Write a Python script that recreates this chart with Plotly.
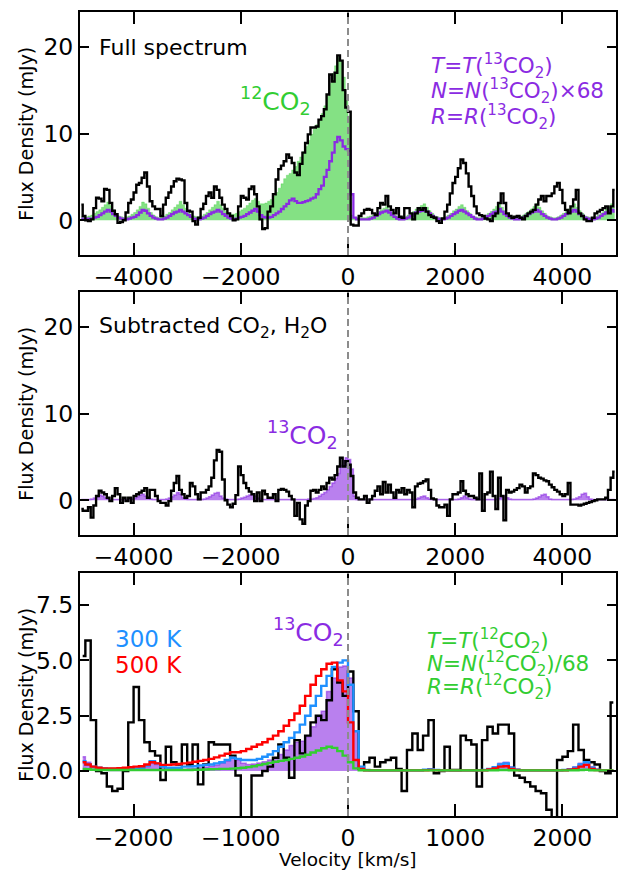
import plotly.graph_objects as go

# ---------------- velocity grids (bin centres, km/s) ----------------
WIDE_START, WIDE_STEP, WIDE_N = -4975, 50, 200
ZOOM_START, ZOOM_STEP, ZOOM_N = -2475, 50, 100
vel_wide = [WIDE_START + WIDE_STEP * i for i in range(WIDE_N)]
vel_zoom = [ZOOM_START + ZOOM_STEP * i for i in range(ZOOM_N)]

# ---------------- panel 1: full spectrum ----------------
full_obs = [
    1.8, 0.5, 0.0, -0.1, 0.1, 1.4, 2.6, 2.5, 2.2, 3.6, 3.5, 2.0, 1.1, 0.7, -0.3, -0.2, 0.0, 0.9, 2.0, 2.4,
    3.2, 4.1, 4.3, 4.9, 5.5, 3.9, 2.2, 1.6, 1.3, 1.3, 0.5, 1.8, 2.6, 3.2, 3.9, 4.5, 4.8, 4.7, 4.6, 2.0,
    1.1, 1.0, -0.1, -0.5, 0.3, 1.3, 1.9, 2.8, 3.2, 2.6, 3.9, 3.5, 2.6, 1.8, 1.3, 0.8, 0.5, 0.0, 0.1, 1.6,
    2.8, 2.6, 2.4, 3.6, 3.9, 3.0, 1.6, 0.1, -1.0, -0.9, 1.0, 1.6, 3.0, 4.7, 5.9, 6.3, 6.8, 7.6, 7.2, 6.6,
    5.5, 5.2, 6.5, 7.8, 8.9, 9.9, 10.7, 10.7, 10.8, 11.6, 12.0, 12.8, 14.5, 16.8, 16.0, 17.0, 19.0, 18.4, 15.0, 13.0,
    12.5, -0.5, -0.6, -0.6, 0.5, 0.8, 1.2, 1.3, 1.2, 0.8, 0.6, 1.4, 2.0, 1.8, 2.8, 1.6, 1.2, 0.8, 1.4, 0.4,
    0.3, 1.4, 1.4, 0.8, 0.1, 0.8, 1.4, 1.2, 1.4, 1.0, 0.6, 0.4, 0.3, -0.1, -0.3, 0.2, 1.0, 1.8, 3.1, 4.3,
    5.0, 6.0, 7.0, 6.6, 5.4, 3.9, 2.8, 1.6, 0.8, 0.6, 0.5, 0.2, 0.1, -0.1, 0.5, 0.8, 2.0, 3.1, 2.0, 0.8,
    0.5, 0.3, 0.4, 0.5, 0.3, 0.1, 0.5, 0.8, 1.0, 1.2, 1.8, 2.4, 2.8, 2.2, 2.8, 2.8, 3.1, 3.9, 4.3, 3.5,
    2.0, 1.2, 0.8, 1.6, 2.4, 3.5, 0.8, 0.5, 0.1, -0.1, -0.1, 0.3, 0.8, 1.0, 1.2, 1.4, 1.6, 0.8, 1.6, 3.5,
]
full_model12 = [
    0.4, 0.4, 0.4, 0.5, 0.6, 0.8, 1.0, 1.2, 1.5, 1.8, 2.1, 1.7, 1.2, 0.8, 0.5, 0.4, 0.3, 0.4, 0.5, 0.7,
    0.9, 1.2, 1.6, 2.1, 1.9, 1.4, 0.9, 0.6, 0.4, 0.3, 0.4, 0.5, 0.7, 0.9, 1.2, 1.5, 1.8, 2.2, 1.8, 1.4,
    1.0, 0.7, 0.5, 0.4, 0.4, 0.5, 0.7, 0.9, 1.2, 1.5, 1.8, 2.2, 1.8, 1.4, 1.0, 0.8, 0.7, 0.7, 0.8, 1.0,
    1.2, 1.4, 1.7, 2.0, 2.3, 2.5, 2.2, 1.9, 1.9, 2.0, 2.2, 2.4, 2.8, 3.2, 3.7, 4.2, 4.8, 5.2, 5.4, 5.8,
    6.2, 6.8, 7.3, 7.9, 8.5, 9.2, 9.9, 10.5, 11.0, 11.6, 12.3, 13.2, 14.3, 15.8, 16.9, 17.8, 18.8, 18.3, 16.5, 13.8,
    12.0, 0.6, 0.3, 0.3, 0.3, 0.3, 0.3, 0.4, 0.5, 0.6, 0.8, 1.0, 1.2, 1.4, 1.6, 1.3, 0.9, 0.6, 0.4, 0.3,
    0.3, 0.4, 0.6, 0.8, 1.0, 1.3, 1.5, 1.7, 1.9, 1.5, 1.1, 0.8, 0.5, 0.4, 0.3, 0.3, 0.4, 0.6, 0.8, 1.1,
    1.3, 1.6, 1.8, 1.5, 1.1, 0.8, 0.5, 0.4, 0.3, 0.3, 0.4, 0.6, 0.8, 1.0, 1.3, 1.6, 1.9, 1.5, 1.1, 0.8,
    0.5, 0.4, 0.3, 0.3, 0.4, 0.6, 0.8, 1.0, 1.3, 1.6, 1.9, 1.5, 1.1, 0.8, 0.5, 0.4, 0.3, 0.3, 0.4, 0.6,
    0.8, 1.0, 1.3, 1.6, 1.9, 1.5, 1.1, 0.8, 0.5, 0.4, 0.3, 0.3, 0.4, 0.6, 0.8, 1.0, 1.3, 1.6, 1.9, 1.5,
]
full_model13 = [
    0.2, 0.2, 0.2, 0.2, 0.2, 0.3, 0.4, 0.6, 0.8, 1.0, 1.2, 1.0, 0.7, 0.5, 0.3, 0.2, 0.1, 0.1, 0.2, 0.3,
    0.4, 0.6, 0.9, 1.2, 1.1, 0.8, 0.5, 0.3, 0.2, 0.1, 0.1, 0.2, 0.3, 0.5, 0.7, 0.9, 1.0, 1.2, 1.0, 0.8,
    0.6, 0.4, 0.2, 0.1, 0.1, 0.2, 0.3, 0.5, 0.7, 0.9, 1.0, 1.2, 1.0, 0.7, 0.5, 0.3, 0.2, 0.1, 0.2, 0.3,
    0.4, 0.5, 0.7, 0.9, 1.1, 1.3, 1.0, 0.6, 0.4, 0.3, 0.3, 0.4, 0.6, 0.8, 1.0, 1.3, 1.6, 1.9, 2.3, 2.5,
    2.2, 2.0, 2.0, 2.1, 2.2, 2.3, 2.5, 2.6, 3.0, 3.6, 4.0, 5.0, 5.8, 6.8, 7.8, 9.0, 9.6, 9.2, 8.5, 8.2,
    8.0, 3.0, 0.3, 0.1, 0.1, 0.1, 0.1, 0.1, 0.2, 0.3, 0.5, 0.7, 0.9, 1.0, 1.1, 0.9, 0.6, 0.4, 0.2, 0.1,
    0.1, 0.2, 0.3, 0.5, 0.7, 0.9, 1.0, 1.1, 1.3, 1.0, 0.8, 0.5, 0.3, 0.2, 0.1, 0.1, 0.2, 0.3, 0.5, 0.7,
    0.9, 1.1, 1.2, 1.0, 0.8, 0.6, 0.4, 0.2, 0.1, 0.1, 0.2, 0.3, 0.5, 0.7, 0.9, 1.0, 1.3, 1.0, 0.7, 0.5,
    0.3, 0.2, 0.1, 0.1, 0.2, 0.3, 0.5, 0.7, 0.9, 1.0, 1.2, 1.0, 0.7, 0.5, 0.3, 0.2, 0.1, 0.1, 0.2, 0.3,
    0.5, 0.7, 0.9, 1.0, 1.2, 1.0, 0.7, 0.5, 0.3, 0.2, 0.1, 0.1, 0.2, 0.3, 0.5, 0.7, 0.9, 1.0, 1.2, 1.0,
]

# ---------------- panel 2: CO2 / H2O subtracted ----------------
sub_obs = [
    -1.0, -1.2, -1.2, -0.8, -2.0, -0.6, 0.5, 1.1, 0.9, 0.7, 0.3, -0.1, 0.5, 1.4, 0.7, -0.3, 0.3, -0.1, 0.3, -0.3,
    0.5, 0.7, 0.9, 1.1, 1.4, 0.3, 1.2, 1.2, 0.5, -0.1, -0.3, -0.3, -0.6, -0.1, 1.1, 2.0, 2.8, 1.2, 0.7, 0.3,
    0.5, 2.0, 1.6, 0.7, 0.1, 0.9, 0.9, 1.2, 1.6, 2.6, 4.6, 5.8, 5.6, 2.4, 0.0, -0.5, -0.8, -0.4, 0.6, 3.9,
    2.9, 2.0, 1.4, 1.0, 0.7, -0.1, 0.9, -0.1, 1.1, 0.7, 0.3, 0.3, 0.7, -0.1, 1.2, 1.3, 1.2, 1.0, 0.5, 0.1,
    -1.8, -0.3, -2.2, -2.7, -0.6, -0.1, 1.1, 1.2, 0.9, 1.2, 1.6, 1.3, 2.0, 2.6, 2.4, 2.9, 3.9, 4.9, 3.9, 4.5,
    4.1, 2.8, 0.9, 0.3, 0.1, 0.1, 0.5, -0.3, 0.1, 0.5, 1.1, 1.6, 0.7, 2.1, 0.9, 1.8, 0.9, 0.3, 1.2, 0.9,
    1.4, 0.7, 1.2, 0.9, -0.8, 1.6, 1.9, 2.0, 2.2, 2.4, 1.2, 0.2, 0.1, -0.6, -0.8, -0.8, -0.5, -1.8, 0.1, 0.7,
    0.7, 0.9, 2.2, 1.1, 0.7, 0.5, 0.5, 0.3, 0.1, 3.1, -1.2, 0.7, 0.9, 3.3, 0.5, -1.0, 2.6, 0.5, -2.3, 1.2,
    0.9, 1.0, 1.2, 1.4, 1.8, 1.6, 0.9, 1.4, 1.6, 3.1, 2.9, 2.6, 2.5, 2.3, 2.2, 1.8, 1.5, 1.2, 1.0, 0.7,
    0.5, 0.7, 2.0, -0.5, -0.5, -0.5, -0.6, -0.5, -0.4, -0.3, -0.2, -0.1, 0.0, 0.1, 0.1, 0.1, 0.3, 1.2, 2.6, 3.3,
]
sub_model13 = [
    0.1, 0.1, 0.1, 0.1, 0.15, 0.25, 0.4, 0.6, 0.5, 0.3, 0.15, 0.1, 0.1, 0.1, 0.1, 0.1, 0.1, 0.1, 0.1, 0.15,
    0.25, 0.4, 0.6, 0.7, 0.5, 0.25, 0.15, 0.1, 0.1, 0.1, 0.1, 0.1, 0.15, 0.25, 0.4, 0.6, 0.9, 0.7, 0.3, 0.15,
    0.1, 0.1, 0.1, 0.1, 0.1, 0.1, 0.15, 0.25, 0.4, 0.6, 0.8, 0.9, 0.5, 0.25, 0.15, 0.1, 0.1, 0.1, 0.1, 0.15,
    0.25, 0.35, 0.5, 0.6, 0.7, 0.5, 0.25, 0.15, 0.1, 0.1, 0.1, 0.1, 0.1, 0.1, 0.1, 0.1, 0.1, 0.1, 0.1, 0.1,
    0.1, 0.1, 0.1, 0.1, 0.1, 0.15, 0.15, 0.2, 0.3, 0.5, 0.7, 0.9, 1.2, 1.6, 2.0, 2.5, 3.1, 4.0, 4.6, 4.9,
    4.7, 3.6, 0.5, 0.1, 0.1, 0.1, 0.1, 0.1, 0.1, 0.1, 0.1, 0.1, 0.1, 0.1, 0.1, 0.1, 0.1, 0.1, 0.1, 0.1,
    0.1, 0.1, 0.1, 0.1, 0.1, 0.15, 0.25, 0.4, 0.5, 0.3, 0.15, 0.1, 0.1, 0.1, 0.1, 0.1, 0.1, 0.1, 0.1, 0.1,
    0.1, 0.15, 0.3, 0.5, 0.3, 0.15, 0.1, 0.1, 0.1, 0.1, 0.1, 0.1, 0.1, 0.1, 0.1, 0.15, 0.25, 0.4, 0.5, 0.3,
    0.15, 0.1, 0.1, 0.1, 0.1, 0.1, 0.1, 0.1, 0.1, 0.15, 0.25, 0.4, 0.6, 0.7, 0.4, 0.15, 0.1, 0.1, 0.1, 0.1,
    0.1, 0.1, 0.1, 0.1, 0.15, 0.25, 0.4, 0.7, 0.8, 0.4, 0.15, 0.1, 0.1, 0.1, 0.1, 0.1, 0.1, 0.1, 0.1, 0.1,
]

# ---------------- panel 3: zoom on 13CO2 ----------------
zoom_obs = [
    5.2, 5.9, 2.3, 0.0, -0.1, -0.7, -0.9, -0.8, 0.0, 2.2, 3.8, 2.3, 1.3, 0.9, 0.7, -0.4, 1.1, 0.4, 0.3, 1.2,
    0.3, 1.2, -0.6, 0.3, 1.3, 1.2, 1.2, 1.2, 0.7, -0.2, -2.6, -3.0, -0.2, -0.2, 0.0, 0.2, 0.6, 1.2, 0.6, -0.3,
    1.4, 0.8, 1.6, 2.2, 2.5, 2.3, 3.2, 4.6, 4.0, 3.4, 4.5, 2.7, 0.1, 0.4, 0.6, 0.2, 0.4, 0.5, 0.6, 0.1,
    -0.9, 0.95, 1.7, 0.95, 1.6, 2.3, -0.1, 0.0, 1.1, 0.05, 0.05, 1.6, 1.4, 1.2, -0.7, 1.4, 2.0, 1.7, 2.1, 2.1,
    1.7, -0.2, -0.3, -0.5, -0.7, -0.9, -1.0, -1.75, -2.5, 0.5, 0.65, 0.9, 2.1, 0.95, 0.5, 0.4, 0.3, 0.0, -0.1, 3.1,
]
zoom_model13 = [
    0.65, 0.4, 0.2, 0.1, 0.05, 0.03, 0.03, 0.03, 0.03, 0.05, 0.08, 0.12, 0.2, 0.35, 0.3, 0.15, 0.08, 0.05, 0.05, 0.08,
    0.1, 0.12, 0.15, 0.18, 0.22, 0.28, 0.35, 0.45, 0.6, 0.5, 0.35, 0.3, 0.32, 0.36, 0.42, 0.5, 0.6, 0.75, 0.95, 1.15,
    1.3, 1.35, 1.55, 2.0, 2.45, 2.7, 3.6, 4.2, 4.7, 4.75, 4.2, 1.8, 0.1, 0.03, 0.03, 0.03, 0.03, 0.03, 0.03, 0.03,
    0.03, 0.03, 0.03, 0.03, 0.06, 0.1, 0.06, 0.03, 0.03, 0.03, 0.03, 0.03, 0.03, 0.03, 0.03, 0.05, 0.1, 0.2, 0.35, 0.4,
    0.2, 0.08, 0.04, 0.03, 0.03, 0.03, 0.03, 0.03, 0.03, 0.03, 0.05, 0.1, 0.2, 0.35, 0.45, 0.2, 0.08, 0.04, 0.03, 0.03,
]
zoom_300k = [
    0.45, 0.3, 0.2, 0.15, 0.12, 0.1, 0.1, 0.1, 0.1, 0.1, 0.12, 0.15, 0.25, 0.45, 0.35, 0.2, 0.15, 0.15, 0.15, 0.2,
    0.2, 0.22, 0.25, 0.28, 0.3, 0.35, 0.4, 0.5, 0.6, 0.55, 0.5, 0.5, 0.5, 0.55, 0.65, 0.75, 0.9, 1.1, 1.3, 1.5,
    1.75, 2.1, 2.5, 2.95, 3.4, 3.85, 4.3, 4.7, 4.9, 5.0, 3.9, 1.8, 0.2, 0.05, 0.03, 0.03, 0.03, 0.03, 0.03, 0.03,
    0.03, 0.03, 0.03, 0.03, 0.06, 0.08, 0.05, 0.03, 0.03, 0.03, 0.03, 0.03, 0.03, 0.03, 0.03, 0.05, 0.1, 0.18, 0.3, 0.35,
    0.15, 0.06, 0.03, 0.03, 0.03, 0.03, 0.03, 0.03, 0.03, 0.03, 0.05, 0.08, 0.15, 0.3, 0.4, 0.15, 0.06, 0.03, 0.03, 0.03,
]
zoom_500k = [
    0.4, 0.3, 0.2, 0.15, 0.12, 0.12, 0.12, 0.13, 0.15, 0.17, 0.2, 0.22, 0.3, 0.4, 0.35, 0.28, 0.28, 0.3, 0.32, 0.35,
    0.38, 0.42, 0.46, 0.5, 0.55, 0.62, 0.7, 0.78, 0.85, 0.85, 0.9, 1.0, 1.1, 1.2, 1.3, 1.45, 1.6, 1.8, 2.05, 2.3,
    2.6, 2.95, 3.4, 3.9, 4.3, 4.6, 4.85, 4.9, 4.1, 3.6, 2.2, 0.5, 0.1, 0.04, 0.03, 0.03, 0.03, 0.03, 0.03, 0.03,
    0.03, 0.03, 0.03, 0.03, 0.04, 0.05, 0.04, 0.03, 0.03, 0.03, 0.03, 0.03, 0.03, 0.03, 0.03, 0.04, 0.07, 0.12, 0.2, 0.22,
    0.1, 0.05, 0.03, 0.03, 0.03, 0.03, 0.03, 0.03, 0.03, 0.03, 0.04, 0.06, 0.1, 0.2, 0.28, 0.1, 0.05, 0.03, 0.03, 0.03,
]
zoom_model12 = [
    0.1, 0.08, 0.06, 0.05, 0.05, 0.05, 0.05, 0.05, 0.05, 0.05, 0.05, 0.05, 0.05, 0.05, 0.05, 0.05, 0.05, 0.05, 0.05, 0.05,
    0.05, 0.06, 0.06, 0.07, 0.08, 0.09, 0.1, 0.1, 0.11, 0.13, 0.15, 0.18, 0.22, 0.27, 0.32, 0.37, 0.42, 0.46, 0.5, 0.55,
    0.6, 0.66, 0.74, 0.84, 0.93, 1.03, 1.1, 1.05, 0.9, 0.7, 0.4, 0.12, 0.04, 0.03, 0.03, 0.03, 0.03, 0.03, 0.03, 0.03,
    0.03, 0.03, 0.03, 0.03, 0.03, 0.03, 0.03, 0.03, 0.03, 0.03, 0.03, 0.03, 0.03, 0.03, 0.03, 0.03, 0.03, 0.04, 0.05, 0.05,
    0.04, 0.03, 0.03, 0.03, 0.03, 0.03, 0.03, 0.03, 0.03, 0.03, 0.03, 0.03, 0.04, 0.05, 0.06, 0.04, 0.03, 0.03, 0.03, 0.03,
]

# ---------------- styling ----------------
FONT = "DejaVu Sans"
GREEN = "#32CD32"
GREEN_FILL = "rgba(50,205,50,0.6)"
PURPLE = "#8A2BE2"
PURPLE_FILL = "rgba(138,43,226,0.6)"
BLUE = "#1E90FF"
RED = "#FF0000"

fig = go.Figure()


def step(x, y, xa, ya, color, width=2.0, fill=None, fillcolor=None):
    fig.add_trace(go.Scatter(
        x=x, y=y, xaxis=xa, yaxis=ya, mode="lines",
        line=dict(shape="hvh", color=color, width=width),
        fill=fill, fillcolor=fillcolor, hoverinfo="skip", showlegend=False,
    ))


# panel 1
step(vel_wide, full_model12, "x", "y", GREEN_FILL, width=0.5, fill="tozeroy", fillcolor=GREEN_FILL)
step(vel_wide, full_model13, "x", "y", PURPLE, width=2.3)
step(vel_wide, full_obs, "x", "y", "black", width=2.4)
# panel 2
step(vel_wide, sub_model13, "x2", "y2", PURPLE_FILL, width=1.5, fill="tozeroy", fillcolor=PURPLE_FILL)
step(vel_wide, sub_obs, "x2", "y2", "black", width=2.4)
# panel 3
step(vel_zoom, zoom_model13, "x3", "y3", PURPLE_FILL, width=1.5, fill="tozeroy", fillcolor=PURPLE_FILL)
step(vel_zoom, zoom_obs, "x3", "y3", "black", width=2.4)
step(vel_zoom, zoom_300k, "x3", "y3", BLUE, width=2.4)
step(vel_zoom, zoom_500k, "x3", "y3", RED, width=2.4)
step(vel_zoom, zoom_model12, "x3", "y3", GREEN, width=2.4)

TICK = 23.5
axis_common = dict(
    showline=True, linecolor="black", linewidth=2, mirror="allticks",
    ticks="inside", tickwidth=2, tickcolor="black", showgrid=False, zeroline=False,
    tickfont=dict(family=FONT, size=TICK, color="black"),
)

FIG_W, FIG_H = 621, 870
M_L, M_R, M_T, M_B = 80, 3, 12, 54
PLOT_W = FIG_W - M_L - M_R
PLOT_H = FIG_H - M_T - M_B


def dom(top_px, bottom_px):
    return [(FIG_H - M_B - bottom_px) / PLOT_H, (FIG_H - M_B - top_px) / PLOT_H]


d1, d2, d3 = dom(12, 255), dom(292, 535), dom(573, 816)

fig.update_layout(
    width=FIG_W, height=FIG_H,
    margin=dict(l=M_L, r=M_R, t=M_T, b=M_B),
    paper_bgcolor="white", plot_bgcolor="white",
    font=dict(family=FONT, color="black"),
    xaxis=dict(axis_common, range=[-5000, 5000], tickvals=[-4000, -2000, 0, 2000, 4000],
               ticklen=12, anchor="y", domain=[0, 1]),
    yaxis=dict(axis_common, range=[-4, 24], tickvals=[0, 10, 20], ticklen=9,
               anchor="x", domain=d1),
    xaxis2=dict(axis_common, range=[-5000, 5000], tickvals=[-4000, -2000, 0, 2000, 4000],
                ticklen=12, anchor="y2", domain=[0, 1]),
    yaxis2=dict(axis_common, range=[-4, 24], tickvals=[0, 10, 20], ticklen=9,
                anchor="x2", domain=d2),
    xaxis3=dict(axis_common, range=[-2500, 2500], tickvals=[-2000, -1000, 0, 1000, 2000],
                ticklen=12, anchor="y3", domain=[0, 1]),
    yaxis3=dict(axis_common, range=[-2.03, 8.95], tickvals=[0, 2.5, 5, 7.5], tickformat=".1f",
                ticklen=9, anchor="x3", domain=d3),
)

# dashed systemic-velocity markers
for xa, ya in (("x", "y"), ("x2", "y2"), ("x3", "y3")):
    fig.add_shape(type="line", xref=xa, yref=f"{ya} domain", x0=0, x1=0, y0=0, y1=1,
                  line=dict(color="#8c8c8c", width=2, dash="7px,4px"), layer="above")

ann = []


def note(text, x, y, xref, yref, color="black", xanchor="left", yanchor="middle", size=22, **kw):
    ann.append(dict(text=text, x=x, y=y, xref=xref, yref=yref, showarrow=False,
                    xanchor=xanchor, yanchor=yanchor, align="left",
                    font=dict(family=FONT, size=size, color=color), **kw))


def px_x(px):
    """horizontal pixel -> x-domain fraction"""
    return (px - M_L) / PLOT_W


def px_y(px, top_px, bottom_px):
    """vertical pixel -> y-domain fraction of the panel spanning top_px..bottom_px"""
    return (bottom_px - px) / (bottom_px - top_px)


CO2_12 = "<sup>12</sup>CO<sub>2</sub>"
CO2_13 = "<sup>13</sup>CO<sub>2</sub>"
MOL = 25

# panel 1 texts
note("Full spectrum", px_x(97), px_y(47, 12, 255), "x domain", "y domain")
note(CO2_12, -1350, 13.8, "x", "y", color=GREEN, xanchor="center", size=MOL)
for txt, ypx in ((f"<i>T</i>=<i>T</i>({CO2_13})", 66),
                 (f"<i>N</i>=<i>N</i>({CO2_13})×68", 91),
                 (f"<i>R</i>=<i>R</i>({CO2_13})", 117)):
    note(txt, px_x(431), px_y(ypx, 12, 255), "x domain", "y domain", color=PURPLE, size=21.5,
         borderpad=0)

# panel 2 texts
note("Subtracted CO<sub>2</sub>, H<sub>2</sub>O", px_x(97), px_y(327, 292, 535), "x2 domain", "y2 domain")
note(CO2_13, -850, 7.5, "x2", "y2", color=PURPLE, xanchor="center", size=MOL)

# panel 3 texts
note(CO2_13, -372, 6.3, "x3", "y3", color=PURPLE, xanchor="center", size=MOL)
note("300 K", px_x(113), px_y(639, 573, 816), "x3 domain", "y3 domain", color=BLUE, size=23)
note("500 K", px_x(113), px_y(665, 573, 816), "x3 domain", "y3 domain", color=RED, size=23)
for txt, ypx in ((f"<i>T</i>=<i>T</i>({CO2_12})", 641),
                 (f"<i>N</i>=<i>N</i>({CO2_12})/68", 664),
                 (f"<i>R</i>=<i>R</i>({CO2_12})", 687)):
    note(txt, px_x(427), px_y(ypx, 573, 816), "x3 domain", "y3 domain", color=GREEN, size=21.5,
         borderpad=0)

# axis titles
for d in (d1, d2, d3):
    note("Flux Density (mJy)", px_x(25), (d[0] + d[1]) / 2, "paper", "paper",
         xanchor="center", size=19, textangle=-90)
note("Velocity [km/s]", 0.5, (FIG_H - M_B - 859) / PLOT_H, "paper", "paper",
     xanchor="center", size=18.5, borderpad=0)

fig.update_layout(annotations=ann)
fig.write_html("out.html")
